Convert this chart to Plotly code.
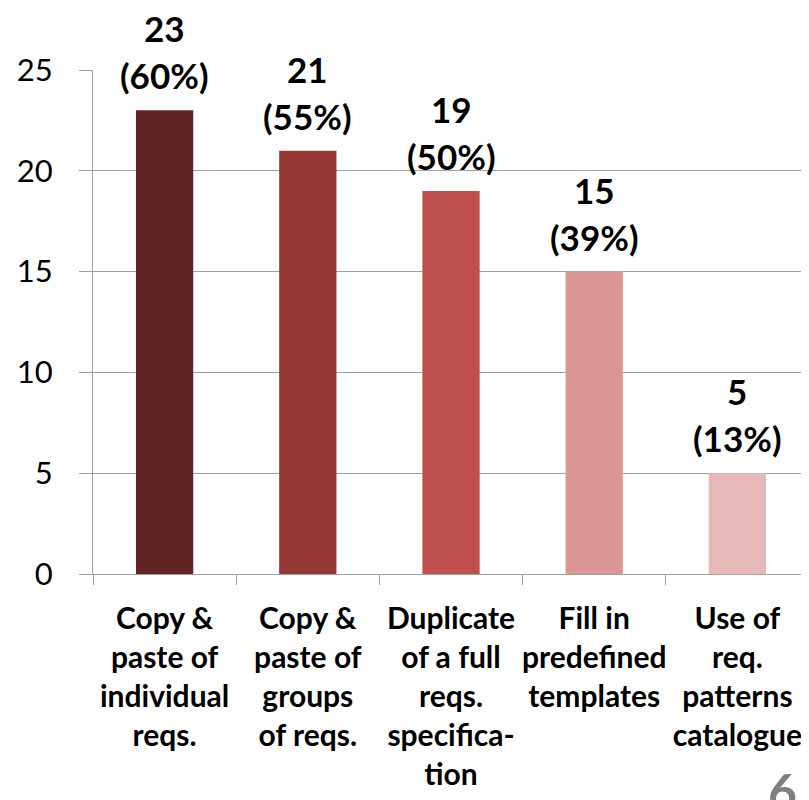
import plotly.graph_objects as go

categories = [
    "Copy &<br>paste of<br>individual<br>reqs.",
    "Copy &<br>paste of<br>groups<br>of reqs.",
    "Duplicate<br>of a full<br>reqs.<br>specifica-<br>tion",
    "Fill in<br>predefined<br>templates",
    "Use of<br>req.<br>patterns<br>catalogue",
]
counts = [23, 21, 19, 15, 5]
percents = [60, 55, 50, 39, 13]
colors = ["#632523", "#953735", "#C0504D", "#D99694", "#E6B9B8"]
y_ticks = [0, 5, 10, 15, 20, 25]

GRID = "#A0A0A0"
FONT = "Lato"

fig = go.Figure()
fig.add_trace(go.Bar(
    x=categories,
    y=counts,
    marker=dict(color=colors, line=dict(width=0)),
    cliponaxis=False,
    hoverinfo="skip",
))

for c, v, p in zip(categories, counts, percents):
    fig.add_annotation(
        x=c, y=v, xref="x", yref="y",
        text=f"<b>({p}%)</b>",
        showarrow=False, yanchor="bottom", yshift=12,
        font=dict(family=FONT, size=35, color="black"),
    )
    fig.add_annotation(
        x=c, y=v, xref="x", yref="y",
        text=f"<b>{v}</b>",
        showarrow=False, yanchor="bottom", yshift=59,
        font=dict(family=FONT, size=35, color="black"),
    )

fig.add_annotation(
    x=0.94, y=-0.367, xref="paper", yref="paper",
    text="<b>6</b>", showarrow=False, xanchor="left", yanchor="top",
    font=dict(family=FONT, size=50, color="#7F7F7F"),
)

fig.update_layout(
    width=801, height=792,
    margin=dict(l=85, r=0, t=62, b=226, autoexpand=False),
    paper_bgcolor="white", plot_bgcolor="white",
    bargap=0.6, showlegend=False,
    font=dict(family=FONT, color="black"),
)
fig.update_yaxes(
    range=[0, 25], tickvals=y_ticks, ticktext=[str(t) for t in y_ticks],
    showgrid=True, gridcolor=GRID, gridwidth=1.3,
    showline=True, linecolor=GRID, linewidth=1.3,
    ticks="outside", ticklen=13, tickcolor=GRID, tickwidth=1.3,
    tickfont=dict(family=FONT, size=31, color="black"),
    ticklabelstandoff=20, zeroline=False, fixedrange=True, automargin=False,
)
fig.update_xaxes(
    showline=True, linecolor=GRID, linewidth=1.3,
    ticks="outside", ticklen=10, tickcolor=GRID, tickwidth=1.3,
    tickson="boundaries", tickangle=0,
    tickfont=dict(family=FONT, size=30, color="black", weight="bold"),
    ticklabelstandoff=18, fixedrange=True, automargin=False,
)

fig.write_html("out.html")
